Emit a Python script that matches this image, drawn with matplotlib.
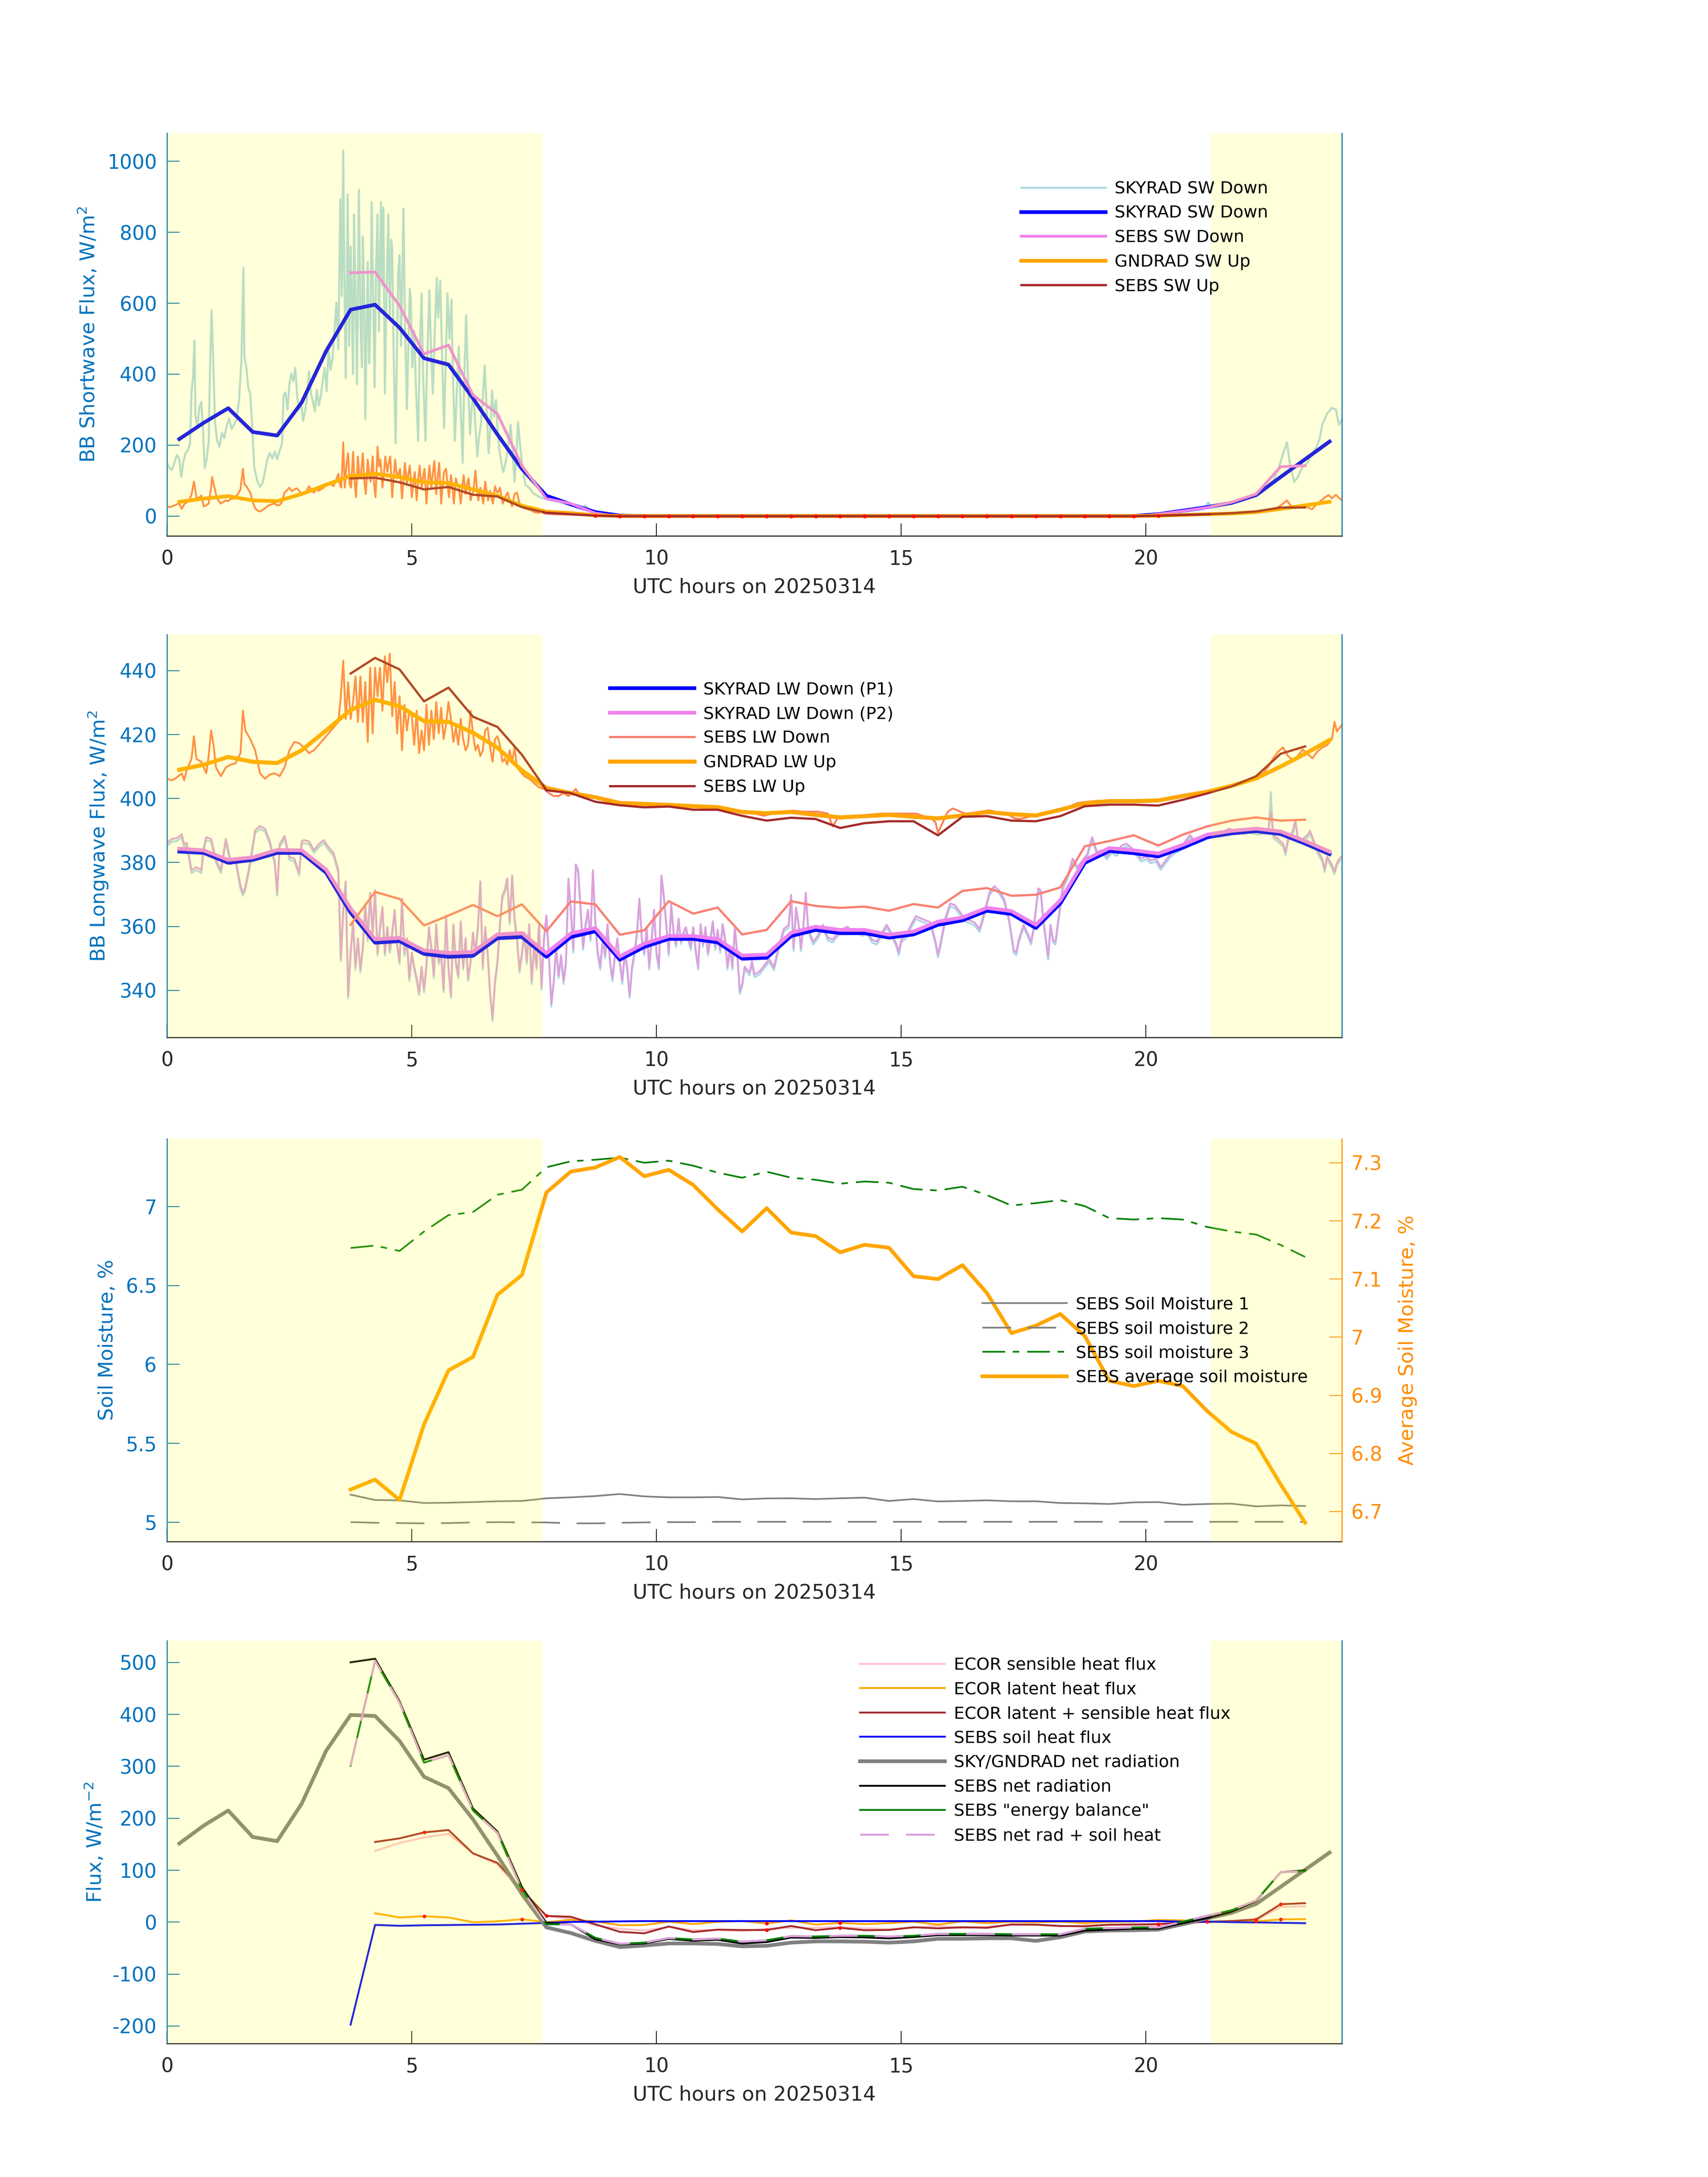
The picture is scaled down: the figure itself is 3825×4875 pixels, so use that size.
import numpy as np
import matplotlib
matplotlib.use('Agg')
import matplotlib.pyplot as plt
from matplotlib.ticker import FuncFormatter

plt.rcParams['font.family'] = ['DejaVu Sans']
plt.rcParams['axes.unicode_minus'] = False
plt.rcParams['lines.scale_dashes'] = False
plt.rcParams['lines.solid_joinstyle'] = 'round'

# ---------------------------------------------------------------- data
t_half = np.arange(0.25, 24.0, 0.5)     # 48 half-hour bins (SKYRAD / GNDRAD)
t_sebs = np.arange(3.75, 23.30, 0.5)    # 40 SEBS half-hour bins
t_ecor = np.arange(4.25, 23.30, 0.5)    # 39 ECOR half-hour bins
day_spans = [(0.0, 7.66), (21.33, 24.0)]
xlabel_txt = 'UTC hours on 20250314'
x_ticks = [0, 5, 10, 15, 20]

# ---- panel 1: shortwave
sky_sw_avg = [217, 263, 304, 237, 227, 320, 465, 582, 596, 531, 445, 427, 332, 230, 133, 57,
              33, 11, 1] + [0] * 21 + [5, 15, 25, 37, 59, 110, 160, 210]
gnd_sw_avg = [40, 49, 56, 44, 42, 62, 88, 113, 119, 110, 95, 93, 75, 57, 29, 12,
              8, 2, 0] + [0] * 21 + [1, 3, 5, 7, 11, 20, 30, 40]
sebs_sw_down = [686, 688, 593, 457, 482, 341, 288, 142, 49, 35, 8, -2] + [-2] * 21 + \
               [5, 14, 24, 39, 62, 139, 142]
sebs_sw_up = [106, 108, 95, 75, 82, 60, 55, 25, 9, 5, 1, -0.5] + [-0.5] * 21 + \
             [1, 3, 5, 8, 13, 24, 24]
sebs_sw_up_flag_idx = list(range(10, 34))

sw_raw_down_am = [
    (0.00, 150), (0.05, 135), (0.10, 130), (0.15, 150), (0.20, 172), (0.25, 160), (0.29, 110),
    (0.33, 150), (0.38, 178), (0.43, 186), (0.47, 205), (0.50, 350), (0.53, 390), (0.56, 495),
    (0.58, 285), (0.62, 250), (0.66, 305), (0.70, 322), (0.73, 255), (0.77, 135), (0.81, 160),
    (0.85, 210), (0.88, 430), (0.91, 580), (0.94, 450), (0.98, 265), (1.02, 215), (1.07, 195),
    (1.12, 235), (1.17, 220), (1.22, 255), (1.27, 275), (1.32, 245), (1.37, 258), (1.42, 272),
    (1.47, 325), (1.52, 440), (1.56, 700), (1.58, 450), (1.62, 420), (1.66, 360), (1.70, 345),
    (1.74, 250), (1.78, 140), (1.84, 100), (1.90, 82), (1.95, 92), (2.00, 125), (2.05, 160),
    (2.10, 178), (2.15, 162), (2.20, 182), (2.25, 160), (2.30, 185), (2.35, 205), (2.38, 340),
    (2.42, 348), (2.46, 300), (2.50, 372), (2.54, 402), (2.58, 380), (2.62, 418), (2.66, 335),
    (2.70, 300), (2.74, 322), (2.78, 268), (2.82, 295), (2.86, 335), (2.90, 408), (2.94, 345),
    (2.98, 322), (3.02, 295), (3.06, 356), (3.10, 312), (3.14, 338), (3.18, 382), (3.22, 418),
    (3.26, 352), (3.30, 470), (3.34, 412), (3.38, 445), (3.42, 520), (3.46, 602), (3.50, 470),
    (3.54, 894), (3.57, 620), (3.60, 1031), (3.62, 700), (3.65, 389), (3.67, 600), (3.69, 907),
    (3.72, 480), (3.75, 760), (3.77, 611), (3.80, 400), (3.82, 850), (3.84, 700), (3.88, 372),
    (3.90, 650), (3.92, 920), (3.95, 560), (3.98, 420), (4.00, 788), (4.03, 600), (4.05, 274),
    (4.08, 540), (4.10, 717), (4.13, 430), (4.16, 600), (4.18, 885), (4.21, 620), (4.24, 363),
    (4.27, 700), (4.30, 850), (4.33, 520), (4.37, 885), (4.40, 650), (4.42, 870), (4.45, 345),
    (4.48, 600), (4.52, 850), (4.55, 560), (4.58, 779), (4.60, 752), (4.63, 450), (4.67, 204),
    (4.70, 500), (4.72, 680), (4.75, 735), (4.78, 480), (4.80, 620), (4.83, 867), (4.86, 560),
    (4.90, 301), (4.93, 480), (4.96, 640), (4.98, 611), (5.01, 420), (5.05, 522), (5.08, 380),
    (5.13, 212), (5.16, 450), (5.20, 628), (5.23, 400), (5.28, 212), (5.31, 420), (5.36, 637),
    (5.39, 480), (5.43, 345), (5.47, 520), (5.51, 672), (5.54, 560), (5.58, 664), (5.62, 450),
    (5.66, 248), (5.69, 420), (5.73, 628), (5.77, 500), (5.81, 611), (5.84, 400), (5.88, 212),
    (5.92, 350), (5.96, 478), (6.00, 300), (6.04, 150), (6.07, 380), (6.11, 566), (6.15, 380),
    (6.19, 230), (6.22, 300), (6.26, 345), (6.30, 250), (6.34, 168), (6.37, 220), (6.41, 257),
    (6.45, 330), (6.49, 425), (6.53, 300), (6.57, 177), (6.61, 260), (6.64, 354), (6.68, 280),
    (6.72, 327), (6.75, 250), (6.79, 186), (6.83, 150), (6.87, 124), (6.90, 140), (6.94, 168),
    (6.98, 210), (7.02, 257), (7.06, 180), (7.10, 97), (7.14, 180), (7.17, 265), (7.21, 204),
    (7.25, 150), (7.32, 88), (7.40, 80), (7.47, 66), (7.55, 58), (7.62, 53), (7.70, 49),
    (7.80, 45), (7.90, 43), (8.00, 40), (8.10, 36), (8.20, 32), (8.30, 28), (8.40, 25),
    (8.50, 24), (8.55, 30), (8.60, 20), (8.70, 15), (8.80, 12), (8.90, 8), (9.00, 5),
    (9.10, 3), (9.20, 1), (9.30, 0)]
sw_raw_down_pm = [
    (20.0, 2), (20.3, 5), (20.6, 10), (20.9, 14), (21.1, 18), (21.2, 22), (21.27, 38),
    (21.35, 25), (21.5, 30), (21.7, 33), (21.9, 40), (22.1, 50), (22.3, 60), (22.4, 70),
    (22.5, 88), (22.6, 100), (22.7, 130), (22.8, 176), (22.88, 208), (22.94, 146), (23.03, 96),
    (23.1, 110), (23.19, 136), (23.3, 150), (23.39, 176), (23.48, 193), (23.55, 220),
    (23.6, 257), (23.7, 289), (23.8, 305), (23.88, 300), (23.94, 257), (24.0, 272)]
sw_raw_up_am = [
    (0.00, 28), (0.05, 25), (0.10, 27), (0.15, 30), (0.20, 33), (0.25, 35), (0.30, 20),
    (0.35, 33), (0.40, 38), (0.45, 44), (0.50, 60), (0.55, 97), (0.60, 53), (0.65, 50),
    (0.70, 58), (0.75, 27), (0.80, 30), (0.85, 35), (0.90, 80), (0.92, 110), (0.97, 80),
    (1.02, 50), (1.05, 44), (1.10, 35), (1.15, 40), (1.20, 44), (1.25, 42), (1.30, 48),
    (1.35, 49), (1.40, 55), (1.45, 62), (1.50, 75), (1.55, 133), (1.58, 90), (1.62, 84),
    (1.66, 75), (1.70, 66), (1.75, 40), (1.80, 22), (1.85, 15), (1.90, 13), (1.95, 17),
    (2.00, 22), (2.05, 28), (2.10, 31), (2.15, 34), (2.20, 35), (2.25, 30), (2.30, 31),
    (2.35, 40), (2.40, 66), (2.45, 72), (2.50, 80), (2.55, 70), (2.60, 75), (2.65, 78),
    (2.70, 71), (2.75, 60), (2.80, 62), (2.85, 70), (2.90, 84), (2.95, 72), (3.00, 66),
    (3.05, 75), (3.10, 71), (3.15, 76), (3.20, 80), (3.25, 88), (3.30, 93), (3.35, 90),
    (3.40, 84), (3.45, 100), (3.50, 119), (3.53, 90), (3.56, 80), (3.60, 208), (3.63, 80),
    (3.67, 150), (3.70, 177), (3.73, 90), (3.76, 80), (3.80, 181), (3.83, 100), (3.86, 53),
    (3.90, 168), (3.93, 110), (3.96, 115), (4.00, 177), (4.03, 100), (4.06, 62), (4.10, 159),
    (4.13, 120), (4.16, 97), (4.20, 168), (4.23, 90), (4.26, 53), (4.30, 195), (4.33, 140),
    (4.36, 159), (4.40, 80), (4.43, 120), (4.46, 168), (4.50, 124), (4.53, 150), (4.56, 168),
    (4.60, 53), (4.63, 110), (4.66, 159), (4.70, 106), (4.73, 120), (4.76, 133), (4.80, 49),
    (4.83, 100), (4.86, 150), (4.90, 88), (4.93, 120), (4.96, 142), (5.00, 53), (5.03, 90),
    (5.06, 124), (5.10, 44), (5.13, 100), (5.16, 142), (5.20, 80), (5.23, 110), (5.26, 133),
    (5.30, 35), (5.33, 95), (5.36, 142), (5.40, 80), (5.43, 120), (5.46, 155), (5.50, 62),
    (5.53, 110), (5.56, 150), (5.60, 35), (5.63, 90), (5.66, 124), (5.70, 133), (5.73, 90),
    (5.76, 53), (5.80, 115), (5.83, 80), (5.86, 35), (5.90, 106), (5.93, 90), (5.96, 80),
    (6.00, 35), (6.03, 80), (6.06, 115), (6.10, 62), (6.13, 90), (6.16, 106), (6.20, 44),
    (6.23, 60), (6.26, 71), (6.30, 128), (6.33, 80), (6.36, 44), (6.40, 80), (6.43, 60),
    (6.46, 35), (6.50, 97), (6.53, 70), (6.56, 44), (6.60, 71), (6.63, 50), (6.66, 35),
    (6.70, 84), (6.73, 70), (6.76, 66), (6.80, 80), (6.83, 55), (6.86, 35), (6.90, 49),
    (6.93, 60), (6.96, 66), (7.00, 44), (7.05, 27), (7.10, 62), (7.15, 66), (7.20, 35),
    (7.25, 28), (7.30, 22), (7.35, 20), (7.40, 18), (7.45, 15), (7.50, 11), (7.55, 10),
    (7.60, 9), (7.65, 14), (7.70, 7), (7.80, 6), (7.90, 5), (8.00, 5), (8.20, 4), (8.40, 3),
    (8.60, 2), (8.80, 1), (9.00, 0)]
sw_raw_up_pm = [
    (20.0, 0), (20.5, 1), (21.0, 3), (21.3, 5), (21.6, 6), (21.9, 9), (22.1, 11), (22.3, 13),
    (22.5, 16), (22.7, 25), (22.8, 35), (22.88, 44), (22.95, 30), (23.05, 22), (23.15, 25),
    (23.25, 28), (23.39, 19), (23.45, 28), (23.55, 40), (23.65, 52), (23.73, 59), (23.8, 50),
    (23.88, 60), (23.95, 50), (24.0, 45)]

# ---- panel 2: longwave
gnd_lw_avg = [409.0, 410.6, 413.0, 411.5, 411.1, 415.1, 421.3, 427.7, 430.9, 428.9, 424.2, 424.0,
              420.6, 415.9, 408.8, 403.3, 401.7, 400.4, 398.6, 398.3, 398.0, 397.6, 397.3, 395.8,
              395.4, 395.8, 394.9, 394.1, 394.5, 394.9, 394.3, 393.8, 394.7, 395.8, 395.1, 394.7,
              396.5, 398.5, 399.2, 399.2, 399.4, 400.8, 402.1, 404.0, 406.3, 410.0, 414.0, 418.3]
sebs_lw_up = [439.1, 444.0, 440.4, 430.4, 434.7, 425.6, 422.4, 413.7, 402.6, 401.7, 399.0, 397.9,
              397.25, 397.5, 396.5, 396.5, 394.6, 393.1, 394.0, 393.6, 390.8, 392.3, 392.9, 392.9,
              388.5, 394.3, 394.5, 393.1, 392.9, 394.5, 397.6, 398.1, 398.1, 397.8, 399.6, 401.6,
              403.8, 407.0, 414.0, 416.3]
sky_lw_p1 = [383.4, 383.0, 379.9, 380.8, 383.0, 383.0, 376.8, 364.3, 354.9, 355.4, 351.4, 350.5,
             350.8, 356.3, 356.7, 350.5, 356.7, 358.5, 349.6, 353.6, 356.1, 356.1, 355.0, 349.9,
             350.2, 357.0, 358.9, 357.9, 357.9, 356.5, 357.5, 360.5, 361.9, 364.9, 363.9, 359.5,
             367.2, 379.9, 383.6, 382.9, 381.9, 384.6, 387.9, 389.1, 389.8, 388.9, 385.9, 382.6]
sky_lw_p2 = [384.3, 383.8, 380.8, 381.6, 383.9, 383.8, 377.8, 365.6, 356.0, 356.4, 352.5, 351.7,
             352.0, 357.5, 357.9, 351.6, 357.8, 359.5, 350.6, 354.6, 357.0, 357.0, 356.0, 350.9,
             351.2, 358.0, 359.9, 358.9, 358.9, 357.4, 358.4, 361.5, 362.8, 365.8, 364.8, 360.5,
             368.2, 380.8, 384.5, 383.8, 382.8, 385.5, 388.7, 389.9, 390.6, 389.7, 386.7, 383.4]
sebs_lw_down = [360.5, 370.8, 368.6, 360.3, 363.4, 366.7, 363.2, 366.9, 358.5, 367.8, 366.9, 357.4,
                358.8, 367.9, 364.0, 365.9, 357.5, 358.9, 367.9, 366.4, 365.8, 366.2, 364.9, 367.0,
                365.9, 371.1, 372.0, 369.6, 369.9, 372.2, 385.1, 386.7, 388.5, 385.3, 388.7, 391.3,
                393.1, 394.1, 393.1, 393.4]

lw_raw_p2 = [
    (0.0, 386.1), (0.1, 387.4), (0.2, 387.6), (0.3, 388.8), (0.35, 385.7), (0.4, 386.1), (0.45, 382.0), (0.5, 377.6), (0.6, 378.5), (0.7, 377.6),
    (0.75, 384.8), (0.8, 387.9), (0.9, 387.4), (1.0, 380.8), (1.1, 377.6), (1.2, 387.4), (1.25, 383.9), (1.3, 380.3), (1.4, 381.2), (1.5, 372.7),
    (1.55, 370.5), (1.6, 372.3), (1.7, 380.3), (1.8, 390.1), (1.9, 391.4), (2.0, 390.6), (2.1, 386.6), (2.2, 380.3), (2.25, 370.5), (2.3, 385.7),
    (2.4, 388.3), (2.5, 381.7), (2.6, 381.2), (2.7, 376.8), (2.75, 386.6), (2.8, 387.0), (2.9, 386.6), (3.0, 383.9), (3.1, 385.7), (3.2, 387.0),
    (3.3, 384.8), (3.4, 383.0), (3.5, 377.6), (3.55, 350.0), (3.6, 365.2), (3.65, 374.1), (3.7, 338.5), (3.75, 351.8), (3.8, 361.6), (3.85, 347.4),
    (3.9, 356.3), (3.95, 346.5), (4.0, 353.6), (4.05, 367.0), (4.1, 356.3), (4.15, 370.5), (4.2, 358.1), (4.25, 371.4), (4.3, 351.8), (4.35, 359.8),
    (4.4, 366.1), (4.45, 351.8), (4.5, 359.8), (4.55, 352.7), (4.6, 358.1), (4.65, 365.2), (4.7, 354.5), (4.75, 349.1), (4.8, 368.7), (4.85, 351.8),
    (4.9, 356.3), (4.95, 343.8), (5.0, 351.8), (5.05, 347.4), (5.1, 343.8), (5.15, 339.4), (5.2, 347.4), (5.25, 340.3), (5.3, 348.2), (5.35, 359.8),
    (5.4, 353.6), (5.45, 344.7), (5.5, 360.7), (5.55, 349.1), (5.6, 351.8), (5.65, 340.3), (5.7, 363.4), (5.75, 347.4), (5.8, 338.5), (5.85, 360.7),
    (5.9, 349.1), (5.95, 344.7), (6.0, 361.6), (6.05, 347.4), (6.1, 356.3), (6.15, 343.8), (6.2, 349.1), (6.25, 358.1), (6.3, 351.8), (6.35, 359.8),
    (6.4, 374.1), (6.45, 347.4), (6.5, 359.8), (6.55, 351.8), (6.6, 339.4), (6.65, 331.3), (6.7, 342.9), (6.75, 349.1), (6.8, 360.7), (6.85, 369.6),
    (6.9, 371.4), (6.95, 375.0), (7.0, 361.6), (7.05, 375.9), (7.1, 362.5), (7.15, 356.3), (7.2, 346.5), (7.25, 351.8), (7.3, 358.1), (7.35, 349.1),
    (7.4, 360.7), (7.45, 342.9), (7.5, 354.5), (7.55, 347.4), (7.6, 360.7), (7.65, 341.1), (7.7, 356.3), (7.75, 363.4), (7.8, 351.8), (7.85, 335.8),
    (7.9, 342.9), (7.95, 353.6), (8.0, 344.7), (8.05, 351.0), (8.1, 342.9), (8.15, 349.1), (8.2, 375.0), (8.25, 365.2), (8.3, 352.7), (8.35, 379.4),
    (8.4, 377.6), (8.45, 365.2), (8.5, 353.6), (8.55, 360.7), (8.6, 365.2), (8.65, 356.3), (8.7, 377.6), (8.75, 361.6), (8.8, 351.8), (8.85, 347.4),
    (8.9, 356.3), (8.95, 351.0), (9.0, 360.7), (9.05, 349.1), (9.1, 343.8), (9.15, 351.0), (9.2, 356.3), (9.25, 349.1), (9.3, 342.9), (9.35, 351.8),
    (9.4, 347.4), (9.45, 338.5), (9.5, 347.4), (9.55, 351.8), (9.6, 358.1), (9.65, 368.7), (9.7, 356.3), (9.75, 351.8), (9.8, 359.8), (9.85, 347.4),
    (9.9, 356.3), (9.95, 365.2), (10.0, 351.8), (10.05, 347.4), (10.1, 375.9), (10.15, 369.6), (10.2, 360.7), (10.25, 351.8), (10.3, 367.0), (10.35, 358.1),
    (10.4, 354.5), (10.45, 362.5), (10.5, 355.4), (10.55, 358.1), (10.6, 359.8), (10.65, 356.3), (10.7, 353.6), (10.75, 359.8), (10.8, 352.7), (10.85, 347.4),
    (10.9, 360.7), (10.95, 354.5), (11.0, 359.8), (11.05, 351.8), (11.1, 356.3), (11.15, 361.6), (11.2, 353.6), (11.25, 359.0), (11.3, 352.7), (11.35, 360.7),
    (11.4, 356.3), (11.45, 347.4), (11.5, 353.6), (11.55, 347.4), (11.6, 359.8), (11.65, 351.8), (11.7, 339.8), (11.75, 342.0), (11.8, 347.4), (11.85, 346.5),
    (11.9, 345.6), (11.95, 349.1), (12.0, 345.0), (12.1, 345.8), (12.2, 347.8), (12.3, 349.8), (12.4, 347.2), (12.5, 353.9), (12.6, 359.2), (12.7, 360.5),
    (12.75, 369.9), (12.8, 353.2), (12.85, 365.9), (12.9, 361.2), (12.95, 353.2), (13.0, 360.5), (13.05, 370.6), (13.1, 359.2), (13.2, 355.2), (13.3, 357.2),
    (13.4, 360.5), (13.5, 356.5), (13.6, 355.9), (13.7, 357.9), (13.8, 359.2), (13.9, 359.9), (14.0, 358.5), (14.1, 359.2), (14.2, 357.9), (14.3, 358.5),
    (14.4, 355.9), (14.5, 355.2), (14.6, 357.9), (14.7, 360.5), (14.8, 357.9), (14.9, 354.5), (14.95, 351.9), (15.0, 355.9), (15.1, 357.2), (15.2, 360.5),
    (15.3, 363.2), (15.4, 362.5), (15.5, 361.9), (15.6, 361.2), (15.7, 355.2), (15.75, 351.2), (15.8, 354.5), (15.9, 362.5), (16.0, 367.2), (16.1, 366.6),
    (16.2, 364.5), (16.3, 362.5), (16.4, 361.9), (16.5, 361.2), (16.6, 359.2), (16.7, 364.5), (16.8, 370.6), (16.9, 372.6), (17.0, 371.2), (17.1, 368.6),
    (17.2, 362.5), (17.3, 352.5), (17.35, 351.9), (17.4, 355.9), (17.5, 360.5), (17.6, 357.2), (17.65, 355.2), (17.7, 359.2), (17.8, 371.9), (17.85, 371.2),
    (17.9, 362.5), (18.0, 350.5), (18.05, 360.5), (18.1, 355.9), (18.15, 355.2), (18.2, 361.2), (18.3, 372.6), (18.4, 375.9), (18.5, 381.2), (18.6, 378.6),
    (18.7, 380.6), (18.8, 382.6), (18.9, 387.9), (19.0, 383.2), (19.1, 383.9), (19.2, 381.9), (19.3, 383.9), (19.4, 382.9), (19.5, 385.3), (19.6, 385.9),
    (19.7, 384.6), (19.8, 383.2), (19.9, 381.2), (20.0, 381.9), (20.1, 380.6), (20.2, 381.2), (20.3, 378.6), (20.4, 380.6), (20.5, 382.6), (20.6, 383.9),
    (20.7, 384.6), (20.8, 386.6), (20.9, 388.6), (21.0, 386.6), (21.1, 387.3), (21.2, 387.9), (21.3, 388.6), (21.4, 389.3), (21.5, 389.6), (21.6, 389.9),
    (21.7, 390.6), (21.8, 389.9), (21.9, 390.3), (22.0, 389.9), (22.1, 390.3), (22.2, 389.9), (22.3, 389.6), (22.4, 389.9), (22.5, 389.9), (22.55, 396.0),
    (22.6, 388.6), (22.7, 387.3), (22.8, 385.9), (22.85, 383.2), (22.9, 387.3), (23.0, 389.9), (23.05, 393.3), (23.1, 387.9), (23.2, 387.3), (23.3, 388.6),
    (23.35, 389.9), (23.4, 387.9), (23.5, 383.9), (23.6, 381.2), (23.65, 377.9), (23.7, 381.9), (23.8, 379.2), (23.85, 377.2), (23.9, 379.9), (23.95, 381.2),
    (24.0, 381.9)]
lw_raw_p1_vals = [
    385.2, 386.5, 386.7, 387.9, 384.8, 385.2, 381.1, 376.7, 377.6, 376.7,
    383.9, 387.0, 386.5, 379.9, 376.7, 386.5, 383.0, 379.4, 380.3, 371.8,
    369.6, 371.4, 379.4, 389.2, 390.5, 389.7, 385.7, 379.4, 369.6, 384.8,
    387.4, 380.8, 380.3, 375.9, 385.7, 386.1, 385.7, 383.0, 384.8, 386.1,
    383.9, 382.1, 376.7, 349.1, 364.3, 373.2, 337.6, 350.9, 360.7, 346.5,
    355.4, 345.6, 352.7, 366.1, 355.4, 369.6, 357.2, 370.5, 350.9, 358.9,
    365.2, 350.9, 358.9, 351.8, 357.2, 364.3, 353.6, 348.2, 367.8, 350.9,
    355.4, 342.9, 350.9, 346.5, 342.9, 338.5, 346.5, 339.4, 347.3, 358.9,
    352.7, 343.8, 359.8, 348.2, 350.9, 339.4, 362.5, 346.5, 337.6, 359.8,
    348.2, 343.8, 360.7, 346.5, 355.4, 342.9, 348.2, 357.2, 350.9, 358.9,
    373.2, 346.5, 358.9, 350.9, 338.5, 330.4, 342.0, 348.2, 359.8, 368.7,
    370.5, 374.1, 360.7, 375.0, 361.6, 355.4, 345.6, 350.9, 357.2, 348.2,
    359.8, 342.0, 353.6, 346.5, 359.8, 340.2, 355.4, 362.5, 350.9, 334.9,
    342.0, 352.7, 343.8, 350.1, 342.0, 348.2, 374.1, 364.3, 351.8, 378.5,
    376.7, 364.3, 352.7, 359.8, 364.3, 355.4, 376.7, 360.7, 350.9, 346.5,
    355.4, 350.1, 359.8, 348.2, 342.9, 350.1, 355.4, 348.2, 342.0, 350.9,
    346.5, 337.6, 346.5, 350.9, 357.2, 367.8, 355.4, 350.9, 358.9, 346.5,
    355.4, 364.3, 350.9, 346.5, 375.0, 368.7, 359.8, 350.9, 366.1, 357.2,
    353.6, 361.6, 354.5, 357.2, 358.9, 355.4, 352.7, 358.9, 351.8, 346.5,
    359.8, 353.6, 358.9, 350.9, 355.4, 360.7, 352.7, 358.1, 351.8, 359.8,
    355.4, 346.5, 352.7, 346.5, 358.9, 350.9, 338.9, 341.1, 346.5, 345.6,
    344.7, 348.2, 344.1, 344.9, 346.9, 348.9, 346.3, 353.0, 358.3, 359.6,
    369.0, 352.3, 365.0, 360.3, 352.3, 359.6, 369.7, 358.3, 354.3, 356.3,
    359.6, 355.6, 355.0, 357.0, 358.3, 359.0, 357.6, 358.3, 357.0, 357.6,
    355.0, 354.3, 357.0, 359.6, 357.0, 353.6, 351.0, 355.0, 356.3, 359.6,
    362.3, 361.6, 361.0, 360.3, 354.3, 350.3, 353.6, 361.6, 366.3, 365.7,
    363.6, 361.6, 361.0, 360.3, 358.3, 363.6, 369.7, 371.7, 370.3, 367.7,
    361.6, 351.6, 351.0, 355.0, 359.6, 356.3, 354.3, 358.3, 371.0, 370.3,
    361.6, 349.6, 359.6, 355.0, 354.3, 360.3, 371.7, 375.0, 380.3, 377.7,
    379.7, 381.7, 387.0, 382.3, 383.0, 381.0, 383.0, 382.0, 384.4, 385.0,
    383.7, 382.3, 380.3, 381.0, 379.7, 380.3, 377.7, 379.7, 381.7, 383.0,
    383.7, 385.7, 387.7, 385.7, 386.4, 387.0, 387.7, 388.4, 388.7, 389.0,
    389.7, 389.0, 389.4, 389.0, 389.4, 389.0, 388.7, 389.0, 389.0, 402.0,
    387.7, 386.4, 385.0, 382.3, 386.4, 389.0, 392.4, 387.0, 386.4, 387.7,
    389.0, 387.0, 383.0, 380.3, 377.0, 381.0, 378.3, 376.3, 379.0, 380.3,
    381.0]
lw_raw_up = [
    (0.0, 406.2), (0.1, 405.7), (0.2, 406.6), (0.3, 407.9), (0.35, 405.7), (0.4, 408.8), (0.5, 412.4),
    (0.55, 419.5), (0.6, 412.4), (0.7, 411.5), (0.8, 407.9), (0.85, 413.3), (0.9, 421.3), (0.95, 416.8),
    (1.0, 409.7), (1.1, 407.0), (1.2, 409.7), (1.3, 410.6), (1.4, 411.0), (1.5, 414.2), (1.55, 427.5),
    (1.6, 421.3), (1.7, 418.6), (1.8, 415.1), (1.9, 407.9), (2.0, 406.2), (2.1, 407.5), (2.2, 407.9),
    (2.3, 407.0), (2.4, 409.7), (2.5, 415.1), (2.6, 417.7), (2.7, 417.3), (2.8, 415.9), (2.9, 414.2),
    (3.0, 415.1), (3.1, 416.8), (3.2, 418.6), (3.3, 420.4), (3.4, 422.2), (3.5, 424.0), (3.55, 432.0),
    (3.6, 443.1), (3.65, 424.9), (3.7, 436.4), (3.75, 424.9), (3.8, 430.2), (3.85, 438.2), (3.9, 424.0),
    (3.95, 438.2), (4.0, 424.0), (4.05, 436.4), (4.1, 417.7), (4.15, 440.9), (4.2, 420.4), (4.25, 440.9),
    (4.3, 432.0), (4.35, 440.9), (4.4, 427.5), (4.45, 444.5), (4.5, 436.4), (4.55, 445.3), (4.6, 425.8),
    (4.65, 436.4), (4.7, 420.4), (4.75, 432.0), (4.8, 415.1), (4.85, 429.3), (4.9, 421.3), (4.95, 427.5),
    (5.0, 425.8), (5.05, 416.8), (5.1, 427.5), (5.15, 414.2), (5.2, 421.3), (5.25, 415.1), (5.3, 429.3),
    (5.35, 416.8), (5.4, 427.5), (5.45, 418.6), (5.5, 430.2), (5.55, 420.4), (5.6, 428.4), (5.65, 418.6),
    (5.7, 423.1), (5.75, 430.2), (5.8, 424.9), (5.85, 417.7), (5.9, 422.2), (5.95, 416.8), (6.0, 424.9),
    (6.05, 418.6), (6.1, 415.1), (6.15, 416.8), (6.2, 427.5), (6.25, 420.4), (6.3, 415.1), (6.35, 416.8),
    (6.4, 413.3), (6.45, 415.1), (6.5, 421.3), (6.55, 422.2), (6.6, 415.9), (6.65, 411.5), (6.7, 418.6),
    (6.75, 419.5), (6.8, 416.8), (6.85, 411.5), (6.9, 412.4), (6.95, 410.6), (7.0, 415.1), (7.05, 411.5),
    (7.1, 415.9), (7.15, 409.7), (7.2, 408.8), (7.3, 407.0), (7.4, 406.2), (7.5, 404.8), (7.6, 403.5),
    (7.7, 403.0), (7.8, 401.7), (7.9, 400.8), (8.0, 400.8), (8.1, 401.7), (8.2, 400.8), (8.3, 402.1),
    (8.35, 403.0), (8.4, 401.7), (8.5, 401.3), (8.6, 400.8), (8.7, 400.4), (8.8, 399.9), (8.9, 399.5),
    (9.0, 399.0), (9.2, 398.6), (9.4, 398.6), (9.6, 398.2), (9.8, 398.6), (10.0, 398.2), (10.2, 398.4),
    (10.4, 398.0), (10.6, 397.8), (10.8, 397.4), (11.0, 397.6), (11.2, 397.2), (11.5, 396.6),
    (11.8, 396.0), (12.0, 395.3), (12.2, 394.6), (12.5, 395.9), (12.8, 396.2), (13.0, 395.9),
    (13.3, 395.9), (13.5, 395.3), (13.6, 391.3), (13.7, 393.9), (14.0, 394.3), (14.3, 394.9),
    (14.6, 395.3), (15.0, 395.3), (15.3, 395.3), (15.5, 394.3), (15.6, 393.9), (15.7, 392.6),
    (15.75, 389.3), (15.85, 392.6), (15.95, 395.9), (16.05, 396.9), (16.1, 396.6), (16.3, 395.3),
    (16.5, 395.6), (16.8, 396.3), (17.0, 395.6), (17.2, 394.9), (17.3, 393.9), (17.4, 393.6),
    (17.5, 393.9), (17.7, 394.6), (18.0, 395.3), (18.2, 396.3), (18.4, 397.3), (18.6, 398.6),
    (18.8, 399.0), (19.0, 399.3), (19.5, 399.3), (20.0, 399.3), (20.3, 399.6), (20.5, 400.3),
    (20.7, 400.6), (21.0, 401.6), (21.3, 402.6), (21.6, 403.6), (21.9, 405.0), (22.1, 405.3),
    (22.2, 406.0), (22.3, 407.0), (22.4, 408.0), (22.5, 410.0), (22.6, 412.6), (22.7, 414.7),
    (22.8, 416.0), (22.9, 413.3), (23.0, 412.0), (23.1, 413.3), (23.2, 415.3), (23.3, 414.0),
    (23.4, 412.6), (23.5, 414.7), (23.6, 416.0), (23.7, 416.7), (23.8, 418.7), (23.85, 424.0),
    (23.9, 421.0), (24.0, 423.0)]

# ---- panel 3: soil moisture
soil_m1 = [5.175, 5.141, 5.139, 5.122, 5.124, 5.128, 5.133, 5.135, 5.152, 5.158, 5.166, 5.179,
           5.164, 5.158, 5.158, 5.160, 5.145, 5.151, 5.152, 5.147, 5.152, 5.156, 5.135, 5.147,
           5.132, 5.135, 5.139, 5.133, 5.133, 5.122, 5.120, 5.116, 5.126, 5.128, 5.111, 5.116,
           5.118, 5.101, 5.107, 5.103]
soil_m2 = [5.001, 4.997, 4.995, 4.993, 4.995, 4.999, 5.001, 4.999, 4.999, 4.993, 4.993, 4.997,
           4.999, 5.001, 5.001, 5.003, 5.003, 5.003, 5.003, 5.003, 5.003, 5.003, 5.003, 5.003,
           5.003, 5.003, 5.003, 5.003, 5.003, 5.003, 5.003, 5.003, 5.003, 5.003, 5.003, 5.003,
           5.003, 5.003, 5.003, 5.003]
soil_m3 = [6.738, 6.753, 6.719, 6.842, 6.946, 6.965, 7.075, 7.107, 7.249, 7.287, 7.297, 7.310,
           7.278, 7.291, 7.259, 7.215, 7.183, 7.221, 7.183, 7.170, 7.145, 7.159, 7.151, 7.111,
           7.102, 7.126, 7.073, 7.007, 7.022, 7.041, 7.003, 6.927, 6.918, 6.927, 6.918, 6.871,
           6.842, 6.823, 6.757, 6.681]
soil_avg = [6.738, 6.755, 6.720, 6.850, 6.943, 6.966, 7.073, 7.107, 7.249, 7.285, 7.292, 7.310,
            7.277, 7.288, 7.262, 7.220, 7.182, 7.222, 7.180, 7.174, 7.146, 7.159, 7.154, 7.105,
            7.100, 7.124, 7.076, 7.007, 7.020, 7.040, 7.002, 6.925, 6.916, 6.925, 6.916, 6.873,
            6.837, 6.817, 6.747, 6.681]

# ---- panel 4: surface energy fluxes
skygnd_net = [151.5, 186, 215, 164, 156, 228, 330, 399, 397, 349, 280, 258, 198, 128, 54, -10,
              -21, -36, -48, -45, -41, -41, -42, -46.5, -45.5, -39.4, -37, -37, -37.6, -39.4,
              -37, -32, -32, -31, -31, -36, -29, -18, -16, -15.5, -14.4, -4, 7, 18, 35, 68, 101, 134]
sebs_net = [500.3, 507.2, 425.3, 312.9, 327.3, 218.9, 174.6, 67.9, -1.3, -4.2, -33.0, -42.8,
            -41, -32.2, -35.8, -34, -41.2, -38.3, -29.7, -30.4, -28.7, -29.4, -31.2, -28.7,
            -25.1, -25.1, -25.1, -25.8, -25.8, -25.8, -16.2, -14.4, -12.6, -12.6, -1.9, 7.7,
            20.2, 40.9, 96.2, 99.8]
sebs_soil_heat = [-197.3, -5.3, -7.0, -6.0, -5.5, -5.0, -4.5, -3.0, -1.3, 0.5, 1.0, 1.5,
                  2, 2, 2, 2, 2, 2, 2, 2, 2, 2, 2, 2, 2, 2, 2, 2, 2, 2, 2, 2, 2,
                  2, 1, 1, 0, -0.5, -1.2, -2]
sebs_energy_bal = [301.4, 503.2, 422.5, 307.2, 321.6, 214.9, 171.7, 62.1, -4.2, -4.2, -30.1, -41.6,
                   -39.5, -30.5, -33.3, -31.5, -37.6, -34.8, -26.9, -27.6, -26.2, -26.2, -27.6, -26.2,
                   -22.6, -22.6, -22.6, -23.3, -23.3, -23.3, -12.6, -11.5, -10.1, -10.1, 0.9, 12.4,
                   23.1, 42.0, 96.2, 98.0]
sebs_netrad_soil = [301.4, 503.2, 422.5, 307.2, 321.6, 214.9, 171.7, 62.1, -4.2, -4.2, -30.1, -41.6,
                    -39.5, -30.5, -33.3, -31.5, -37.6, -34.8, -26.9, -27.6, -26.2, -26.2, -27.6, -26.2,
                    -22.6, -22.6, -22.6, -23.3, -23.3, -23.3, -12.6, -11.5, -10.1, -10.1, 0.9, 12.4,
                    23.1, 42.0, 96.2, 98.0]
ecor_latent = [17.2, 9.1, 11.4, 9.1, -0.1, 1.6, 5.7, -0.1, 4.5, 1.6, -5.9,
               -5.5, 0.9, -3.7, 0.6, 2.3, -2.6, 3.4, -4.8, -1.2, -3.7, -1.9, 0.9, -4.8, 1.6,
               -1.9, 0.9, -0.1, 0.9, -1.9, 0.5, 1.0, 4.2, 3.4, -0.1, 1.6, 1.6, 5.2, 5.9]
ecor_sum = [154.4, 161.3, 172.8, 177.4, 132.5, 114.1, 62.1, 12.0, 10.3, -4.2, -18.6,
            -21.5, -8.3, -19.0, -14.4, -15.1, -15.1, -7.3, -15.5, -10.8, -15.5, -15.1, -9.8,
            -11.9, -9.8, -10.8, -4.4, -4.8, -7.3, -8.0, -4.8, -4.4, -3.7, -1.0, 0.9, 2.3, 5.2,
            34.5, 36.6]
ecor_sensible = [137.1, 152.7, 163.0, 170.0, 132.5, 111.2, 57.0, 12.0, 6.0, -6.0, -12.8,
                 -16.0, -9.2, -15.3, -15.0, -17.4, -12.5, -10.7, -10.7, -9.6, -11.8, -13.2, -10.7,
                 -7.1, -11.4, -8.9, -5.3, -4.7, -8.2, -6.1, -5.3, -5.4, -7.9, -4.4, 1.0, 0.7, 3.6,
                 29.3, 30.7]
ecor_latent_flag_idx = [2, 6, 16, 19, 36, 37]
ecor_sum_flag_idx = [2, 6, 7, 16, 19, 32, 34, 36, 37]

# ---------------------------------------------------------------- style
AXBLUE = '#0072BD'
DARK = '#262626'
DKORANGE = '#FF8C00'
LIGHTBLUE = '#ADD8E6'
VIOLET = '#EE82EE'
ORANGE = '#FFA500'
BROWN = '#A52A2A'
CORAL = '#FF7F50'
SALMON = '#FA8072'
PLUM = '#DDA0DD'
PINK = '#FFC0CB'
GRAY = '#808080'
GREEN = '#008000'

TICK_FS = 10.5
LABEL_FS = 10.8
LEG_FS = 9.1

fig = plt.figure(figsize=(12.75, 16.25), dpi=300)
left, width, height = 0.0978, 0.6878, 0.18503
bottoms = [0.75385, 0.52349, 0.29190, 0.06133]
axes = [fig.add_axes([left, b, width, height]) for b in bottoms]


def gfmt(v, pos):
    return '%g' % v


def style_axis(ax, ylim, yticks, ylabel, ylabel_x):
    ax.set_xlim(0, 24)
    ax.set_ylim(*ylim)
    ax.set_xticks(x_ticks)
    ax.set_yticks(yticks)
    ax.yaxis.set_major_formatter(FuncFormatter(gfmt))
    ax.tick_params(direction='in', length=6.7, width=0.5, labelsize=TICK_FS)
    ax.tick_params(axis='x', colors=DARK, pad=7.3)
    ax.tick_params(axis='y', colors=AXBLUE, pad=5.5)
    ax.spines['top'].set_visible(False)
    ax.spines['left'].set_color(AXBLUE)
    ax.spines['right'].set_color(AXBLUE)
    ax.spines['bottom'].set_color(DARK)
    for s in ax.spines.values():
        s.set_linewidth(0.6)
    ax.set_xlabel(xlabel_txt, fontsize=LABEL_FS, color=DARK)
    ax.xaxis.set_label_coords(0.5, -0.104)
    ax.set_ylabel(ylabel, fontsize=LABEL_FS, color=AXBLUE)
    ax.yaxis.set_label_coords(ylabel_x, 0.5)


def shade(ax):
    for a, b in day_spans:
        ax.axvspan(a, b, color=(1, 1, 0), alpha=0.15, lw=0, zorder=4)


def legend(ax, handles, x, y):
    ax.legend(handles=handles, loc='upper left', bbox_to_anchor=(x, y), frameon=False,
              fontsize=LEG_FS, handlelength=5.0, handletextpad=0.52, labelspacing=0.49,
              borderpad=0, borderaxespad=0)


# ---------------------------------------------------------------- panel 1
ax = axes[0]
h_raw, = ax.plot(*zip(*sw_raw_down_am), color=LIGHTBLUE, lw=1.1, label='SKYRAD SW Down')
ax.plot(*zip(*sw_raw_down_pm), color=LIGHTBLUE, lw=1.1)
ax.plot(*zip(*sw_raw_up_am), color=CORAL, lw=1.0)
ax.plot(*zip(*sw_raw_up_pm), color=CORAL, lw=1.0)
h_sky, = ax.plot(t_half, sky_sw_avg, color='blue', lw=2.0, label='SKYRAD SW Down')
h_sebsd, = ax.plot(t_sebs, sebs_sw_down, color=VIOLET, lw=1.5, label='SEBS SW Down')
h_gnd, = ax.plot(t_half, gnd_sw_avg, color=ORANGE, lw=2.0, label='GNDRAD SW Up')
h_sebsu, = ax.plot(t_sebs, sebs_sw_up, color=BROWN, lw=1.2, label='SEBS SW Up')
ax.plot(t_sebs[sebs_sw_up_flag_idx], np.asarray(sebs_sw_up)[sebs_sw_up_flag_idx], ls='none',
        marker='o', ms=2.0, color='red', mec='none')
style_axis(ax, (-56, 1080), [0, 200, 400, 600, 800, 1000], 'BB Shortwave Flux, W/m$^2$', -0.0578)
shade(ax)
legend(ax, [h_raw, h_sky, h_sebsd, h_gnd, h_sebsu], 0.727, 0.881)

# ---------------------------------------------------------------- panel 2
ax = axes[1]
t_lwraw = [p[0] for p in lw_raw_p2]
ax.plot(t_lwraw, lw_raw_p1_vals[:len(t_lwraw)], color=LIGHTBLUE, lw=1.0)
ax.plot(*zip(*lw_raw_p2), color=PLUM, lw=1.0)
ax.plot(*zip(*lw_raw_up), color=CORAL, lw=1.0)
h1, = ax.plot(t_half, sky_lw_p1, color='blue', lw=2.0, label='SKYRAD LW Down (P1)')
h2, = ax.plot(t_half, sky_lw_p2, color=VIOLET, lw=2.0, label='SKYRAD LW Down (P2)')
h3, = ax.plot(t_sebs, sebs_lw_down, color=SALMON, lw=1.2, label='SEBS LW Down')
h4, = ax.plot(t_half, gnd_lw_avg, color=ORANGE, lw=2.2, label='GNDRAD LW Up')
h5, = ax.plot(t_sebs, sebs_lw_up, color=BROWN, lw=1.2, label='SEBS LW Up')
style_axis(ax, (325.3, 451.3), [340, 360, 380, 400, 420, 440], 'BB Longwave Flux, W/m$^2$', -0.0483)
shade(ax)
legend(ax, [h1, h2, h3, h4, h5], 0.377, 0.883)

# ---------------------------------------------------------------- panel 3
ax = axes[2]
axr = ax.twinx()
axr.set_position([left, bottoms[2], width, height])
ax.set_position([left, bottoms[2], width, height])
g1, = ax.plot(t_sebs, soil_m1, color=GRAY, lw=0.9, label='SEBS Soil Moisture 1')
g2, = ax.plot(t_sebs, soil_m2, color=GRAY, lw=0.9, dashes=(15.4, 8.9), label='SEBS soil moisture 2')
g3, = ax.plot(t_sebs, soil_m3, color=GREEN, lw=0.9, dashes=(12.2, 4.1, 3.5, 4.3),
              label='SEBS soil moisture 3')
g4, = axr.plot(t_sebs, soil_avg, color=ORANGE, lw=2.0, label='SEBS average soil moisture')
style_axis(ax, (4.878, 7.43), [5, 5.5, 6, 6.5, 7], 'Soil Moisture, %', -0.0426)
ax.spines['right'].set_visible(False)
axr.set_ylim(6.6485, 7.3415)
axr.set_yticks([6.7, 6.8, 6.9, 7.0, 7.1, 7.2, 7.3])
axr.yaxis.set_major_formatter(FuncFormatter(gfmt))
axr.tick_params(direction='in', length=6.7, width=0.5, labelsize=TICK_FS, colors=DKORANGE, pad=5.0)
for k in ['top', 'left', 'bottom']:
    axr.spines[k].set_visible(False)
axr.spines['right'].set_color(DKORANGE)
axr.spines['right'].set_linewidth(0.6)
axr.set_ylabel('Average Soil Moisture, %', fontsize=LABEL_FS, color=DKORANGE)
axr.yaxis.set_label_coords(1.0481, 0.5)
shade(axr)
legend(axr, [g1, g2, g3, g4], 0.694, 0.608)

# ---------------------------------------------------------------- panel 4
ax = axes[3]
k1, = ax.plot(t_ecor, ecor_sensible, color=PINK, lw=1.0, label='ECOR sensible heat flux')
k2, = ax.plot(t_ecor, ecor_latent, color=ORANGE, lw=1.0, label='ECOR latent heat flux')
k3, = ax.plot(t_ecor, ecor_sum, color=BROWN, lw=1.0, label='ECOR latent + sensible heat flux')
k4, = ax.plot(t_sebs, sebs_soil_heat, color='blue', lw=1.0, label='SEBS soil heat flux')
k5, = ax.plot(t_half, skygnd_net, color=GRAY, lw=2.0, label='SKY/GNDRAD net radiation')
k6, = ax.plot(t_sebs, sebs_net, color='black', lw=1.0, label='SEBS net radiation')
k7, = ax.plot(t_sebs, sebs_energy_bal, color=GREEN, lw=1.0, label='SEBS "energy balance"')
k8, = ax.plot(t_sebs, sebs_netrad_soil, color=PLUM, lw=1.1, dashes=(15.4, 9.2),
              label='SEBS net rad + soil heat')
ax.plot(t_ecor[ecor_latent_flag_idx], np.asarray(ecor_latent)[ecor_latent_flag_idx], ls='none',
        marker='o', ms=2.0, color='red', mec='none')
ax.plot(t_ecor[ecor_sum_flag_idx], np.asarray(ecor_sum)[ecor_sum_flag_idx], ls='none',
        marker='o', ms=2.0, color='red', mec='none')
style_axis(ax, (-233.6, 542), [-200, -100, 0, 100, 200, 300, 400, 500], 'Flux, W/m$^{-2}$', -0.052)
shade(ax)
legend(ax, [k1, k2, k3, k4, k5, k6, k7, k8], 0.590, 0.959)

fig.savefig('out.png', dpi=300, facecolor='white')
